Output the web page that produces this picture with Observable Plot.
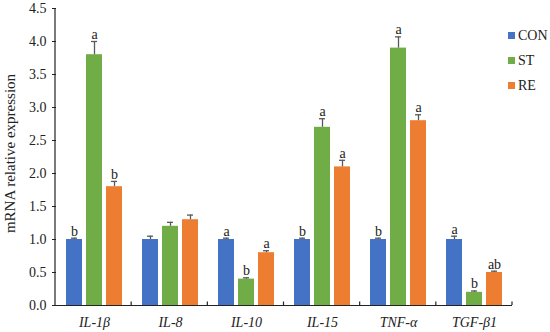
<!DOCTYPE html>
<html>
<head>
<meta charset="utf-8">
<script src="https://cdn.jsdelivr.net/npm/d3@7"></script>
<script src="https://cdn.jsdelivr.net/npm/@observablehq/plot@0.6"></script>
<style>
  html, body { margin: 0; padding: 0; background: #fff; }
  #wrap { position: relative; width: 550px; height: 332px; font-family: "Liberation Serif", "Times New Roman", serif; }
  #legend { position: absolute; left: 508px; top: 23px; font-size: 14px; color: #222; }
  #legend .item { display: flex; align-items: center; height: 25px; }
  #legend .sw { width: 7px; height: 7px; margin-right: 3px; }
</style>
</head>
<body>
<div id="wrap"><div id="legend"></div></div>
<script>
const groups = ["IL-1β", "IL-8", "IL-10", "IL-15", "TNF-α", "TGF-β1"];
const series = ["CON", "ST", "RE"];
const colors = ["#4472C4", "#70AD47", "#ED7D31"];
const yTicks = [0, 0.5, 1, 1.5, 2, 2.5, 3, 3.5, 4, 4.5];
const yLabel = "mRNA relative expression";

const conValues = [1.0, 1.0, 1.0, 1.0, 1.0, 1.0];
const conErrors = [0.02, 0.05, 0.02, 0.02, 0.02, 0.05];
const conLetters = ["b", "", "a", "b", "b", "a"];

const stValues = [3.8, 1.2, 0.4, 2.7, 3.9, 0.2];
const stErrors = [0.2, 0.06, 0.02, 0.13, 0.17, 0.02];
const stLetters = ["a", "", "b", "a", "a", "b"];

const reValues = [1.8, 1.3, 0.8, 2.1, 2.8, 0.5];
const reErrors = [0.08, 0.07, 0.03, 0.1, 0.09, 0.02];
const reLetters = ["b", "", "a", "a", "a", "ab"];

const valuesBySeries = [conValues, stValues, reValues];
const errorsBySeries = [conErrors, stErrors, reErrors];
const lettersBySeries = [conLetters, stLetters, reLetters];

const data = [];
series.forEach((s, si) => {
  groups.forEach((g, gi) => {
    data.push({
      group: g,
      series: s,
      value: valuesBySeries[si][gi],
      top: valuesBySeries[si][gi] + errorsBySeries[si][gi],
      letter: lettersBySeries[si][gi]
    });
  });
});

const font = '"Liberation Serif", "Times New Roman", serif';

const plot = Plot.plot({
  width: 550,
  height: 332,
  marginLeft: 55,
  marginRight: 38,
  marginTop: 8,
  marginBottom: 27,
  style: { fontFamily: font, fontSize: "14px", color: "#222", background: "#fff" },
  fx: { domain: groups, paddingInner: 0, paddingOuter: 0, label: null, axis: null },
  x: { domain: series, paddingInner: 0.22, paddingOuter: 0.46, axis: null },
  y: { domain: [0, 4.5], axis: null },
  color: { domain: series, range: colors },
  marks: [
    Plot.axisY({
      ticks: yTicks,
      tickFormat: d3.format(".1f"),
      tickSize: 4,
      tickPadding: 6,
      fontSize: 14,
      label: null
    }),
    Plot.axisFx({
      anchor: "bottom",
      tickSize: 0,
      tickPadding: 12,
      fontSize: 14,
      fontStyle: "italic",
      label: null
    }),
    Plot.barY(data, { fx: "group", x: "series", y: "value", fill: "series" }),
    Plot.ruleX(data, { fx: "group", x: "series", y1: "value", y2: "top", stroke: "#595959", strokeWidth: 1.3 }),
    Plot.tickY(data, { fx: "group", x: "series", y: "top", stroke: "#595959", strokeWidth: 1.3, insetLeft: 5, insetRight: 5 }),
    Plot.text(data, { fx: "group", x: "series", y: "top", text: "letter", dy: -7, fontSize: 14, fill: "#222" }),
    Plot.ruleY([0], { stroke: "#222", strokeWidth: 1.2 })
  ]
});

document.getElementById("wrap").prepend(plot);

// Group boundary ticks on the baseline, from the fx and y scales
const fxs = plot.scale("fx");
const ys = plot.scale("y");
const [r0, r1] = fxs.range;
const step = (r1 - r0) / fxs.domain.length;
const y0 = ys.range[0];
const yTop = ys.range[1];
const svg = d3.select(plot);
const g = svg.append("g").attr("stroke", "#222").attr("stroke-width", 1.2);
fxs.domain.forEach((d, i) => {
  const xb = r0 + step * (i + 1);
  g.append("line").attr("x1", xb).attr("x2", xb).attr("y1", y0 - 3.5).attr("y2", y0);
});
// Left axis line spanning the y domain
svg.append("line")
  .attr("x1", r0).attr("x2", r0)
  .attr("y1", yTop).attr("y2", y0)
  .attr("stroke", "#222").attr("stroke-width", 1.2);
// Y axis title
svg.append("text")
  .attr("transform", `translate(12,${(y0 + yTop) / 2 - 3}) rotate(-90)`)
  .attr("text-anchor", "middle")
  .attr("dominant-baseline", "middle")
  .attr("font-size", 15)
  .attr("fill", "#222")
  .text(yLabel);

// Legend
const legend = d3.select("#legend");
series.forEach((s, i) => {
  const item = legend.append("div").attr("class", "item");
  item.append("div").attr("class", "sw").style("background", colors[i]);
  item.append("span").text(s);
});
</script>
</body>
</html>
